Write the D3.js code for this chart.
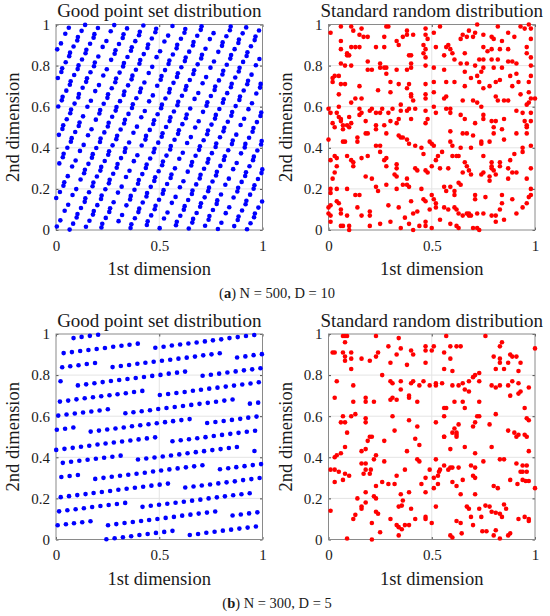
<!DOCTYPE html>
<html>
<head>
<meta charset="utf-8">
<script src="https://cdn.jsdelivr.net/npm/d3@7"></script>
<style>
  body { margin: 0; background: #fff; }
  text { font-family: "Liberation Serif", "Times New Roman", serif; fill: #1a1a1a; }
  .axis text { font-size: 15px; }
  .axis line { stroke: #4d4d4d; }
  .title { font-size: 19px; }
  .label { font-size: 18.5px; }
  .caption { font-size: 14.5px; }
</style>
</head>
<body>
<div id="chart"></div>
<script>
// Good point set, N = 500, D = 10 (first two dimensions)
const goodA = [
  [.962,.924],[.923,.847],[.885,.771],[.847,.695],[.808,.619],[.770,.542],[.732,.466],[.693,.390],[.655,.314],[.617,.237],[.579,.161],[.540,.085],[.502,.009],[.464,.932],[.425,.856],[.387,.780],[.349,.704],[.310,.627],[.272,.551],[.234,.475],[.195,.399],[.157,.322],[.119,.246],[.080,.170],[.042,.094],[.004,.017],[.966,.941],[.927,.865],[.889,.789],[.851,.712],[.812,.636],[.774,.560],[.736,.484],[.697,.407],[.659,.331],
  [.926,.709],[.888,.633],[.849,.556],[.811,.480],[.773,.404],[.734,.328],[.696,.251],[.658,.175],[.619,.099],[.581,.023],[.543,.946],[.504,.870],[.466,.794],[.428,.718],[.389,.641],[.351,.565],[.313,.489],[.274,.412],[.236,.336],[.198,.260],[.160,.184],[.121,.107],[.083,.031],[.045,.955],[.006,.879],[.968,.802],[.930,.726],[.891,.650],[.853,.574],[.815,.497],[.776,.421],[.738,.345],[.700,.269],[.661,.192],[.623,.116],[.585,.040],
  [.852,.418],[.813,.341],[.775,.265],[.737,.189],[.698,.113],[.660,.036],[.622,.960],[.584,.884],[.545,.808],[.507,.731],[.469,.655],[.430,.579],[.392,.503],[.354,.426],[.315,.350],[.277,.274],[.239,.198],[.200,.121],[.162,.045],[.124,.969],[.085,.893],[.047,.816],[.009,.740],[.970,.664],[.932,.588],[.894,.511],[.856,.435],[.817,.359],[.779,.283],[.741,.206],[.702,.130],[.664,.054],[.626,.978],[.587,.901],[.549,.825],[.511,.749],
  [.778,.127],[.739,.050],[.701,.974],[.663,.898],[.624,.822],[.586,.745],[.548,.669],[.509,.593],[.471,.516],[.433,.440],[.394,.364],[.356,.288],[.318,.211],[.279,.135],[.241,.059],[.203,.983],[.165,.906],[.126,.830],[.088,.754],[.050,.678],[.011,.601],[.973,.525],[.935,.449],[.896,.373],[.858,.296],[.820,.220],[.781,.144],[.743,.068],[.705,.991],[.666,.915],[.628,.839],[.590,.763],[.551,.686],[.513,.610],[.475,.534],[.436,.458],
  [.703,.835],[.665,.759],[.627,.683],[.588,.607],[.550,.530],[.512,.454],[.473,.378],[.435,.302],[.397,.225],[.359,.149],[.320,.073],[.282,.997],[.244,.920],[.205,.844],[.167,.768],[.129,.692],[.090,.615],[.052,.539],[.014,.463],[.975,.387],[.937,.310],[.899,.234],[.860,.158],[.822,.082],[.784,.005],[.745,.929],[.707,.853],[.669,.777],[.631,.700],[.592,.624],[.554,.548],[.516,.471],[.477,.395],[.439,.319],[.401,.243],[.362,.166],
  [.629,.544],[.591,.468],[.553,.392],[.514,.315],[.476,.239],[.438,.163],[.399,.087],[.361,.010],[.323,.934],[.284,.858],[.246,.782],[.208,.705],[.169,.629],[.131,.553],[.093,.477],[.055,.400],[.016,.324],[.978,.248],[.940,.172],[.901,.095],[.863,.019],[.825,.943],[.786,.867],[.748,.790],[.710,.714],[.671,.638],[.633,.562],[.595,.485],[.556,.409],[.518,.333],[.480,.257],[.441,.180],[.403,.104],[.365,.028],[.327,.952],[.288,.875],
  [.555,.253],[.517,.177],[.478,.101],[.440,.024],[.402,.948],[.363,.872],[.325,.796],[.287,.719],[.249,.643],[.210,.567],[.172,.490],[.134,.414],[.095,.338],[.057,.262],[.019,.185],[.980,.109],[.942,.033],[.904,.957],[.865,.880],[.827,.804],[.789,.728],[.750,.652],[.712,.575],[.674,.499],[.635,.423],[.597,.347],[.559,.270],[.521,.194],[.482,.118],[.444,.042],[.406,.965],[.367,.889],[.329,.813],[.291,.737],[.252,.660],[.214,.584],
  [.481,.962],[.443,.886],[.404,.809],[.366,.733],[.328,.657],[.289,.581],[.251,.504],[.213,.428],[.174,.352],[.136,.276],[.098,.199],[.059,.123],[.021,.047],[.983,.971],[.944,.894],[.906,.818],[.868,.742],[.829,.666],[.791,.589],[.753,.513],[.715,.437],[.676,.361],[.638,.284],[.600,.208],[.561,.132],[.523,.056],[.485,.979],[.446,.903],[.408,.827],[.370,.751],[.331,.674],[.293,.598],[.255,.522],[.216,.445],[.178,.369],[.140,.293],
  [.407,.671],[.368,.594],[.330,.518],[.292,.442],[.253,.366],[.215,.289],[.177,.213],[.139,.137],[.100,.061],[.062,.984],[.024,.908],[.985,.832],[.947,.756],[.909,.679],[.870,.603],[.832,.527],[.794,.451],[.755,.374],[.717,.298],[.679,.222],[.640,.146],[.602,.069],[.564,.993],[.525,.917],[.487,.841],[.449,.764],[.411,.688],[.372,.612],[.334,.536],[.296,.459],[.257,.383],[.219,.307],[.181,.231],[.142,.154],[.104,.078],[.066,.002],
  [.333,.380],[.294,.303],[.256,.227],[.218,.151],[.179,.075],[.141,.998],[.103,.922],[.064,.846],[.026,.769],[.988,.693],[.949,.617],[.911,.541],[.873,.464],[.834,.388],[.796,.312],[.758,.236],[.720,.159],[.681,.083],[.643,.007],[.605,.931],[.566,.854],[.528,.778],[.490,.702],[.451,.626],[.413,.549],[.375,.473],[.336,.397],[.298,.321],[.260,.244],[.221,.168],[.183,.092],[.145,.016],[.106,.939],[.068,.863],[.030,.787],[.991,.711],
  [.258,.088],[.220,.012],[.182,.936],[.143,.860],[.105,.783],[.067,.707],[.028,.631],[.990,.555],[.952,.478],[.914,.402],[.875,.326],[.837,.250],[.799,.173],[.760,.097],[.722,.021],[.684,.945],[.645,.868],[.607,.792],[.569,.716],[.530,.640],[.492,.563],[.454,.487],[.415,.411],[.377,.335],[.339,.258],[.300,.182],[.262,.106],[.224,.030],[.186,.953],[.147,.877],[.109,.801],[.071,.724],[.032,.648],[.994,.572],[.956,.496],[.917,.419],
  [.184,.797],[.146,.721],[.108,.645],[.069,.568],[.031,.492],[.993,.416],[.954,.340],[.916,.263],[.878,.187],[.839,.111],[.801,.035],[.763,.958],[.724,.882],[.686,.806],[.648,.730],[.610,.653],[.571,.577],[.533,.501],[.495,.425],[.456,.348],[.418,.272],[.380,.196],[.341,.120],[.303,.043],[.265,.967],[.226,.891],[.188,.815],[.150,.738],[.111,.662],[.073,.586],[.035,.510],[.996,.433],[.958,.357],[.920,.281],[.882,.205],
  [.110,.506],[.072,.430],[.033,.354],[.995,.277],[.957,.201],[.918,.125],[.880,.049],[.842,.972],[.804,.896],[.765,.820],[.727,.744],[.689,.667],[.650,.591],[.612,.515],[.574,.439],[.535,.362],[.497,.286],[.459,.210],[.420,.134],[.382,.057],[.344,.981],[.305,.905],[.267,.828],[.229,.752],[.190,.676],[.152,.600],[.114,.523],[.076,.447],[.037,.371],[.999,.295],[.961,.218],[.922,.142],[.884,.066],[.846,.990],[.807,.913],
  [.036,.215],[.998,.139],[.959,.062],[.921,.986],[.883,.910],[.844,.834],[.806,.757],[.768,.681],[.729,.605],[.691,.529],[.653,.452],[.614,.376],[.576,.300],[.538,.224],[.499,.147],[.461,.071],[.423,.995],[.384,.919],[.346,.842],[.308,.766],[.270,.690],[.231,.614],[.193,.537],[.155,.461],[.116,.385],[.078,.309],[.040,.232],[.001,.156],[.963,.080],[.925,.004],[.886,.927],[.848,.851],[.810,.775],[.771,.698],[.733,.622]
];

// Standard random points, N = 500
const randA = [
  [.01,.96],[.06,.99],[.11,.99],[.12,.97],[.15,.95],[.16,.98],[.17,.94],[.19,.94],[.27,.94],[.28,.99],[.29,.99],[.38,.97],[.38,.95],[.41,.95],[.36,.94],[.47,.98],[.47,.95],[.48,.93],[.06,.92],[.06,.88],[.11,.89],[.13,.89],[.15,.89],[.09,.86],[.09,.85],[.10,.85],[.23,.89],[.27,.89],[.34,.90],[.33,.92],[.39,.85],[.40,.85],[.46,.90],[.47,.88],[.46,.86],[.47,.84],[.06,.81],[.08,.80],[.11,.80],[.19,.82],[.19,.78],[.21,.78],[.25,.81],[.25,.79],[.27,.79],[.28,.79],[.28,.76],[.33,.78],[.38,.78],[.40,.81],[.40,.79],[.02,.74],[.02,.72],[.03,.75],[.05,.75],[.47,.80],[.06,.71],[.08,.71],[.15,.70],[.24,.68],[.30,.72],[.34,.71],[.39,.71],[.38,.69],[.40,.66],[.40,.65],[.47,.71],[.47,.66],[.47,.64],[.05,.66],[.16,.64],[.30,.67],[.41,.63],[0,.59],[.01,.57],[.04,.57],[.05,.55],[.05,.60],[.11,.62],[.13,.64],[.15,.59],[.16,.57],[.15,.56],[.10,.55],[.06,.54],[.06,.53],[.02,.52],[.11,.52],[.09,.51],[.20,.58],[.21,.59],[.23,.57],[.25,.57],[.26,.59],[.29,.57],[.31,.59],[.35,.61],[.35,.58],[.34,.54],[.33,.52],[.30,.53],[.27,.51],[.38,.58],[.39,.59],[.40,.54],[.42,.59],[.47,.58],[.48,.54],[.47,.52],[.23,.51],[.18,.53],[.07,.51],
  [.54,.99],[.51,.96],[.72,1],[.82,.99],[.93,.99],[.97,1],[.98,.98],[.98,.93],[.68,.97],[.71,.96],[.65,.95],[.64,.93],[.67,.94],[.70,.94],[.75,.95],[.79,.94],[.80,.93],[.84,.92],[.87,.96],[.90,.94],[.95,.98],[.58,.90],[.57,.89],[.59,.88],[.60,.86],[.56,.85],[.61,.83],[.66,.86],[.75,.89],[.77,.87],[.79,.88],[.83,.88],[.87,.88],[.96,.89],[.96,.86],[.98,.84],[.52,.89],[.73,.83],[.75,.83],[.79,.83],[.82,.83],[.51,.79],[.56,.78],[.64,.81],[.67,.81],[.66,.77],[.71,.80],[.74,.77],[.75,.79],[.80,.79],[.84,.79],[.87,.82],[.89,.82],[.91,.81],[.91,.76],[.98,.80],[.98,.75],[.97,.72],[.51,.72],[.57,.72],[.61,.72],[.69,.74],[.72,.75],[.73,.72],[.78,.70],[.81,.72],[.83,.73],[.88,.75],[.89,.70],[.92,.72],[.75,.69],[.66,.70],[.51,.67],[.56,.64],[.57,.65],[.65,.63],[.70,.63],[.72,.62],[.74,.60],[.81,.65],[.82,.63],[.85,.63],[.87,.63],[.93,.66],[.97,.67],[.98,.64],[.97,.62],[1,.64],[.96,.61],[.51,.60],[.52,.57],[.57,.59],[.59,.59],[.59,.57],[.64,.56],[.66,.54],[.71,.52],[.75,.56],[.75,.54],[.79,.53],[.81,.53],[.85,.54],[.91,.58],[.94,.57],[.98,.57],[.95,.53],[.98,.53],[.96,.51],
  [.03,.50],[.07,.49],[.10,.50],[.18,.47],[.19,.47],[.23,.49],[.28,.47],[.34,.46],[.36,.45],[.38,.44],[.35,.45],[0,.44],[.07,.43],[.08,.43],[.14,.45],[.14,.43],[.23,.41],[.25,.41],[.25,.38],[.39,.42],[.42,.41],[.45,.40],[.49,.43],[.46,.37],[.03,.36],[.04,.35],[.01,.34],[.09,.36],[.11,.34],[.12,.33],[.12,.31],[.16,.35],[.19,.36],[.28,.35],[.27,.34],[.28,.31],[.33,.32],[.33,.30],[.04,.31],[.03,.28],[.02,.25],[.18,.26],[.21,.25],[.32,.27],[.33,.26],[.38,.25],[.42,.30],[.43,.29],[.47,.29],[.48,.28],[.01,.20],[.01,.18],[.04,.20],[.09,.20],[.13,.17],[.15,.17],[.24,.19],[.23,.21],[.28,.22],[.33,.20],[.36,.22],[.38,.22],[.39,.21],[.45,.20],[.04,.14],[.05,.13],[.01,.12],[0,.11],[.06,.10],[.14,.11],[.20,.09],[.20,.07],[.29,.12],[.34,.11],[.40,.14],[.41,.08],[.46,.15],[.47,.14],[.49,.10],[.43,.09],[0,.08],[.01,.07],[.06,.08],[.09,.07],[.16,.07],[.06,.02],[.07,.02],[.10,.02],[.10,0],[.20,.02],[.25,.03],[.35,.01],[.39,.03],[.41,0],[.44,.02],[.47,.04],[.47,.02],[.37,.06],[.30,.04],[.01,.04],
  [.59,.48],[.65,.47],[.67,.47],[.70,.46],[.80,.50],[.80,.47],[.84,.49],[.91,.47],[.96,.50],[.96,.47],[.50,.42],[.51,.41],[.59,.43],[.60,.41],[.64,.40],[.69,.40],[.74,.43],[.74,.42],[.78,.43],[.85,.44],[.98,.41],[.94,.40],[.94,.38],[.55,.38],[.53,.36],[.52,.34],[.50,.31],[.54,.30],[.58,.30],[.60,.36],[.62,.36],[.63,.36],[.66,.33],[.67,.31],[.68,.29],[.75,.36],[.79,.33],[.83,.33],[.88,.34],[.90,.37],[.83,.31],[.65,.28],[.69,.27],[.74,.27],[.75,.28],[.79,.31],[.79,.30],[.80,.29],[.81,.27],[.78,.26],[.78,.24],[.87,.30],[.89,.28],[.91,.28],[.87,.25],[.96,.25],[.98,.30],[.56,.21],[.57,.19],[.59,.21],[.61,.19],[.63,.23],[.64,.22],[.50,.17],[.51,.15],[.61,.17],[.71,.17],[.71,.15],[.76,.16],[.84,.17],[.89,.15],[.98,.20],[.98,.17],[.97,.16],[.52,.13],[.52,.11],[.56,.11],[.58,.10],[.61,.11],[.62,.10],[.63,.08],[.65,.07],[.67,.08],[.68,.08],[.68,.07],[.69,.07],[.72,.08],[.75,.08],[.79,.07],[.81,.07],[.83,.10],[.84,.13],[.85,.05],[.91,.08],[.96,.13],[.94,.11],[.54,.05],[.59,.03],[.62,.02],[.63,.01],[.70,.01],[.72,.01],[.73,0],[.81,.04],[.50,.01]
];

// Good point set, N = 300, D = 5
const goodB = [
  [.960,.995],[.920,.990],[.880,.985],[.840,.980],[.800,.974],[.760,.969],[.721,.964],[.681,.959],[.641,.954],[.601,.949],[.561,.944],[.521,.938],[.481,.933],
  [.771,.136],[.731,.131],[.691,.126],[.651,.121],[.611,.116],[.571,.110],[.531,.105],[.491,.100],[.451,.095],[.412,.090],[.372,.085],[.332,.080],[.292,.075],[.252,.069],
  [.542,.272],[.502,.267],[.462,.262],[.422,.257],[.382,.252],[.342,.247],[.302,.242],[.262,.236],[.222,.231],[.182,.226],[.143,.221],[.103,.216],[.063,.211],[.023,.206],
  [.313,.408],[.273,.403],[.233,.398],[.193,.393],[.153,.388],[.113,.383],[.073,.378],[.033,.373],[.993,.367],[.953,.362],[.913,.357],[.873,.352],[.834,.347],[.794,.342],
  [.084,.545],[.044,.539],[.004,.534],[.964,.529],[.924,.524],[.884,.519],[.844,.514],[.804,.509],[.764,.504],[.724,.498],[.684,.493],[.644,.488],[.604,.483],[.564,.478],
  [.855,.681],[.815,.676],[.775,.670],[.735,.665],[.695,.660],[.655,.655],[.615,.650],[.575,.645],[.535,.640],[.495,.635],[.455,.629],[.415,.624],[.375,.619],[.336,.614],
  [.625,.817],[.586,.812],[.546,.807],[.506,.801],[.466,.796],[.426,.791],[.386,.786],[.346,.781],[.306,.776],[.266,.771],[.226,.766],[.186,.760],[.146,.755],[.106,.750],
  [.396,.953],[.356,.948],[.317,.943],[.277,.938],[.237,.932],[.197,.927],[.157,.922],[.117,.917],[.077,.912],[.037,.907],[.997,.902],[.957,.897],[.917,.891],[.877,.886],
  [.167,.089],[.127,.084],[.087,.079],[.048,.074],[.008,.069],[.968,.063],[.928,.058],[.888,.053],[.848,.048],[.808,.043],[.768,.038],[.728,.033],[.688,.027],[.648,.022],
  [.938,.225],[.898,.220],[.858,.215],[.818,.210],[.779,.205],[.739,.200],[.699,.194],[.659,.189],[.619,.184],[.579,.179],[.539,.174],[.499,.169],[.459,.164],[.419,.159],
  [.709,.361],[.669,.356],[.629,.351],[.589,.346],[.549,.341],[.509,.336],[.470,.331],[.430,.325],[.390,.320],[.350,.315],[.310,.310],[.270,.305],[.230,.300],[.190,.295],
  [.480,.497],[.440,.492],[.400,.487],[.360,.482],[.320,.477],[.280,.472],[.240,.467],[.201,.462],[.161,.456],[.121,.451],[.081,.446],[.041,.441],[.001,.436],[.961,.431],
  [.251,.634],[.211,.628],[.171,.623],[.131,.618],[.091,.613],[.051,.608],[.011,.603],[.971,.598],[.931,.593],[.892,.587],[.852,.582],[.812,.577],[.772,.572],[.732,.567],
  [.022,.770],[.982,.765],[.942,.759],[.902,.754],[.862,.749],[.822,.744],[.782,.739],[.742,.734],[.702,.729],[.663,.724],[.623,.718],[.583,.713],[.543,.708],[.503,.703],
  [.793,.906],[.753,.901],[.713,.896],[.673,.890],[.633,.885],[.593,.880],[.553,.875],[.513,.870],[.473,.865],[.433,.860],[.394,.855],[.354,.849],[.314,.844],[.274,.839],
  [.564,.042],[.524,.037],[.484,.032],[.444,.027],[.404,.022],[.364,.016],[.324,.011],[.284,.006],[.244,.001],[.204,.996],[.164,.991],[.124,.986],[.085,.980],
  [.335,.178],[.295,.173],[.255,.168],[.215,.163],[.175,.158],[.135,.152],[.095,.147],[.055,.142],[.015,.137],[.975,.132],[.935,.127],[.895,.122],[.855,.117],
  [.106,.314],[.066,.309],[.026,.304],[.986,.299],[.946,.294],[.906,.289],[.866,.283],[.826,.278],[.786,.273],[.746,.268],[.706,.263],[.666,.258],[.626,.253],
  [.876,.450],[.837,.445],[.797,.440],[.757,.435],[.717,.430],[.677,.425],[.637,.420],[.597,.414],[.557,.409],[.517,.404],[.477,.399],[.437,.394],[.397,.389],
  [.647,.586],[.607,.581],[.567,.576],[.528,.571],[.488,.566],[.448,.561],[.408,.556],[.368,.551],[.328,.545],[.288,.540],[.248,.535],[.208,.530],[.168,.525],
  [.418,.723],[.378,.718],[.338,.712],[.298,.707],[.259,.702],[.219,.697],[.179,.692],[.139,.687],[.099,.682],[.059,.676],[.019,.671],[.979,.666],[.939,.661],
  [.189,.859],[.149,.854],[.109,.848],[.069,.843],[.030,.838],[.990,.833],[.950,.828],[.910,.823],[.870,.818],[.830,.813],[.790,.807],[.750,.802],[.710,.797]
];

// Standard random points, N = 300
const randB = [
  [.07,.99],[.08,.99],[.09,.99],[.23,.99],[.34,.98],[.57,.99],[.76,.99],[.08,.96],[.29,.94],[.47,.94],[.51,.94],[.59,.94],[.62,.94],[.64,.94],[.84,.96],[.83,.94],[1,.93],[.02,.91],[.03,.91],[.07,.91],[.11,.91],[.24,.91],[.35,.93],[.40,.92],[.47,.92],[.50,.92],[.56,.91],[.33,.90],[.41,.90],[.23,.89],[.16,.88],[.20,.87],[.08,.89],[.08,.87],[.11,.88],[.59,.88],[.80,.89],[.88,.90],[.89,.89],[.91,.89],[.83,.88],[.83,.86],[.87,.86],[.93,.86],[.30,.86],[.38,.85],[.47,.86],[.11,.83],[.56,.83],[.60,.82],[.81,.83],[.85,.83],[.92,.82],[.26,.80],[.04,.77],[.12,.75],[.30,.77],[.31,.76],[.35,.77],[.41,.77],[.40,.76],[.46,.77],[.49,.75],[.52,.76],[.52,.75],[.55,.76],[.60,.75],[.63,.75],[.65,.76],[.68,.77],[.70,.79],[.71,.80],[.73,.81],[.73,.77],[.79,.75],[.81,.74],[.83,.75],[.87,.75],[.89,.77],[.92,.76],[.97,.74],[.35,.73],[.39,.70],[.39,.69],[.44,.75],[.66,.73],[.68,.72],[.88,.70],[.92,.71],[.93,.72],[.03,.69],[.18,.69],[.30,.68],[.31,.69],[.33,.68],[.22,.67],[.18,.67],[.12,.67],[.43,.67],[.61,.67],[.65,.67],[.73,.67],[.66,.64],[.56,.64],[.57,.64],[.13,.61],[.11,.60],[.07,.60],[.56,.60],[.72,.60],[.73,.60],[.81,.61],[.95,.64],[.96,.59],[.97,.58],[.18,.59],[.18,.57],[.31,.60],[.39,.58],[.06,.57],[.08,.57],[.43,.55],[.52,.57],[.63,.56],[.71,.57],[.78,.56],[.61,.54],[.60,.52],[.62,.52],[.62,.51],[.70,.55],[.09,.52],[.32,.53],[.87,.53],[.90,.52],[.92,.51],[.95,.51],[.21,.50],[.56,.50],
  [.19,.48],[.20,.50],[.27,.48],[.42,.49],[.44,.46],[.56,.50],[.62,.50],[.91,.50],[.96,.50],[.08,.45],[.03,.40],[.04,.41],[.06,.42],[.16,.43],[.18,.44],[.23,.41],[.22,.39],[.38,.43],[.59,.44],[.66,.45],[.71,.42],[.79,.45],[.97,.43],[.16,.37],[.18,.37],[.27,.38],[.43,.39],[.44,.38],[.52,.39],[.56,.36],[.59,.35],[.60,.35],[.63,.35],[.69,.36],[.71,.35],[.75,.38],[.83,.39],[.85,.39],[.91,.37],[.94,.36],[.96,.36],[.01,.34],[.03,.34],[.05,.33],[.08,.32],[.10,.31],[.17,.32],[.18,.34],[.20,.32],[.205,.34],[.37,.34],[.49,.34],[.54,.34],[.58,.34],[.535,.33],[.93,.33],[.94,.33],[.96,.33],[.33,.31],[.47,.30],[.51,.30],[.53,.31],[.65,.29],[.70,.31],[.71,.30],[.88,.29],[.94,.29],[.955,.285],[.97,.285],[.03,.28],[.07,.29],[.26,.28],[.29,.27],[.32,.27],[.23,.26],[.45,.27],[.53,.27],[.60,.28],[.62,.26],[.51,.25],[.80,.26],[.82,.25],[.915,.27],[1,.25],[.18,.23],[.22,.21],[.35,.22],[.39,.23],[.47,.23],[.64,.22],[.71,.22],[.14,.20],[.23,.20],[.36,.19],[.18,.18],[.355,.165],[.16,.16],[.16,.15],[.34,.16],[.40,.15],[.52,.16],[.67,.16],[.68,.15],[.76,.165],[.78,.16],[.85,.17],[.73,.15],[.79,.135],[.81,.13],[.83,.125],[.84,.11],[.86,.15],[.01,.14],[.23,.135],[.24,.125],[.13,.12],[.12,.10],[.30,.10],[.47,.11],[.47,.10],[.42,.10],[.69,.11],[.74,.11],[.92,.10],[.95,.11],[.97,.10],[.97,.09],[.21,.08],[.50,.08],[.62,.09],[.64,.08],[.33,.07],[.34,.06],[.37,.07],[.39,.07],[.355,.05],[.70,.07],[.25,.035],[.34,.02],[.745,.04],[.765,.04],[.81,.045],[.645,.03],[.59,.02],[.60,.01],[.88,.03],[.87,.02],[.80,.02],[.83,.005],[.09,.005],[.21,0]
];

const xTicks = [0, 0.5, 1];
const yTicks = [0, 0.2, 0.4, 0.6, 0.8, 1];
const titles = ["Good point set distribution", "Standard random distribution"];
const captions = [
  { letter: "a", rest: " N = 500, D = 10" },
  { letter: "b", rest: " N = 300, D = 5" }
];

const width = 550, height = 616;
const size = { w: 206.5, h: 205.5 };

const svg = d3
  .select("#chart")
  .append("svg")
  .attr("width", width)
  .attr("height", height);

svg.append("rect").attr("width", width).attr("height", height).attr("fill", "#fff");

// one scatter panel: grid, box, ticks, labels, dots
function scatterPanel(left, top, pts, color, title) {
  const g = svg.append("g").attr("transform", `translate(${left},${top})`);

  const x = d3.scaleLinear().domain([0, 1]).range([0, size.w]);
  const y = d3.scaleLinear().domain([0, 1]).range([size.h, 0]);

  // grid lines
  g.append("g")
    .selectAll("line")
    .data(yTicks.slice(1, -1))
    .join("line")
    .attr("x1", 0)
    .attr("x2", size.w)
    .attr("y1", (d) => y(d))
    .attr("y2", (d) => y(d))
    .attr("stroke", "#e4e4e4");
  g.append("g")
    .selectAll("line")
    .data(xTicks.slice(1, -1))
    .join("line")
    .attr("x1", (d) => x(d))
    .attr("x2", (d) => x(d))
    .attr("y1", 0)
    .attr("y2", size.h)
    .attr("stroke", "#e4e4e4");

  // axes, ticks pointing inward
  const fmt = d3.format("");
  const blank = () => "";
  const axes = [
    { gen: d3.axisBottom(x).tickValues(xTicks).tickFormat(fmt).tickPadding(10), t: `translate(0,${size.h})` },
    { gen: d3.axisTop(x).tickValues(xTicks).tickFormat(blank), t: "translate(0,0)" },
    { gen: d3.axisLeft(y).tickValues(yTicks).tickFormat(fmt).tickPadding(6), t: "translate(0,0)" },
    { gen: d3.axisRight(y).tickValues(yTicks).tickFormat(blank), t: `translate(${size.w},0)` }
  ];
  axes.forEach((a) => {
    const ax = g.append("g").attr("class", "axis").attr("transform", a.t).call(a.gen.tickSize(-2.5));
    ax.select(".domain").remove();
    ax.attr("font-family", null).attr("font-size", null);
  });

  // box
  g.append("rect")
    .attr("width", size.w)
    .attr("height", size.h)
    .attr("fill", "none")
    .attr("stroke", "#8a8a8a")
    .attr("stroke-width", 1);

  // dots
  g.append("g")
    .selectAll("circle")
    .data(pts)
    .join("circle")
    .attr("cx", (d) => x(d[0]))
    .attr("cy", (d) => y(d[1]))
    .attr("r", 2.3)
    .attr("fill", color);

  // title and axis labels
  g.append("text")
    .attr("class", "title")
    .attr("x", size.w / 2)
    .attr("y", -7.5)
    .attr("text-anchor", "middle")
    .text(title);

  g.append("text")
    .attr("class", "label")
    .attr("x", size.w / 2)
    .attr("y", size.h + 45)
    .attr("text-anchor", "middle")
    .text("1st dimension");

  g.append("text")
    .attr("class", "label")
    .attr("transform", "rotate(-90)")
    .attr("x", -size.h / 2)
    .attr("y", -37)
    .attr("text-anchor", "middle")
    .text("2nd dimension");
}

const rows = [
  { top: 24.5, good: goodA, rand: randA, cap: captions[0] },
  { top: 334, good: goodB, rand: randB, cap: captions[1] }
];

rows.forEach((row) => {
  scatterPanel(56, row.top, row.good, "#0000ff", titles[0]);
  scatterPanel(328.5, row.top, row.rand, "#ff0000", titles[1]);

  const cap = svg
    .append("text")
    .attr("class", "caption")
    .attr("x", 277)
    .attr("y", row.top + size.h + 68)
    .attr("text-anchor", "middle");
  cap.append("tspan").text("(");
  cap.append("tspan").attr("font-weight", "bold").text(row.cap.letter);
  cap.append("tspan").text(")" + row.cap.rest);
});
</script>
</body>
</html>
